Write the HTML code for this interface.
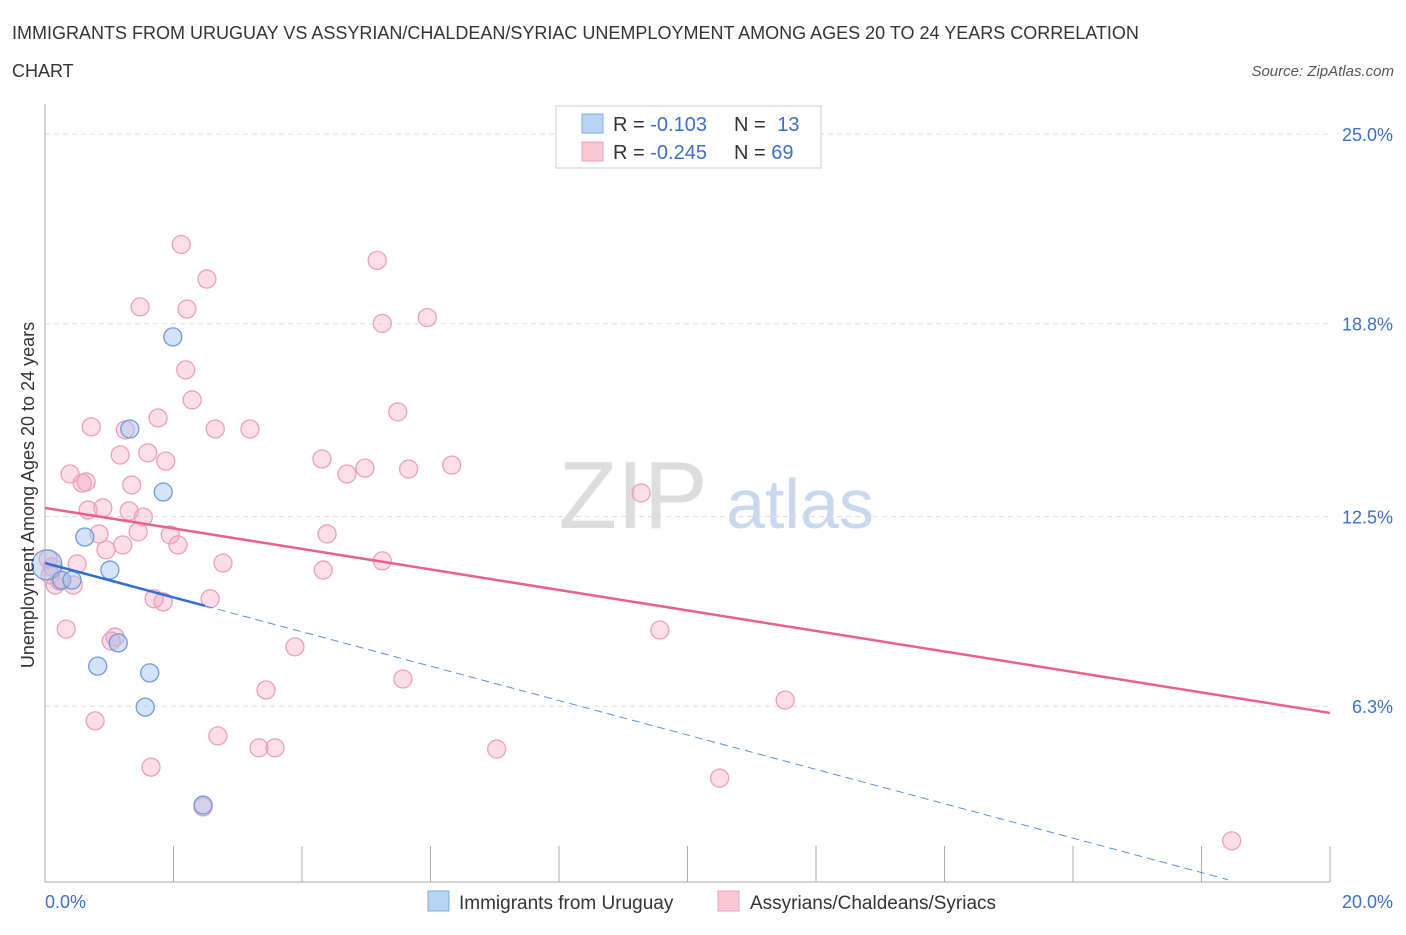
<!DOCTYPE html>
<html><head><meta charset="utf-8"><style>
body{margin:0;background:#fff;font-family:"Liberation Sans",sans-serif;}
svg text{font-family:"Liberation Sans",sans-serif;}
</style></head><body>
<svg id="chart" width="1406" height="930" xmlns="http://www.w3.org/2000/svg">
<text x="12" y="39" font-size="18" fill="#333">IMMIGRANTS FROM URUGUAY VS ASSYRIAN/CHALDEAN/SYRIAC UNEMPLOYMENT AMONG AGES 20 TO 24 YEARS CORRELATION</text>
<text x="12" y="77" font-size="18" fill="#333">CHART</text>
<text x="1394" y="76" font-size="15" fill="#555" font-style="italic" text-anchor="end">Source: ZipAtlas.com</text>
<text x="633" y="528" font-size="96" fill="#ddd" font-family="Liberation Serif" text-anchor="middle">ZIP</text>
<text x="800" y="528" font-size="70" fill="#c8d9ef" text-anchor="middle">atlas</text>
<g id="grid"></g>
<g id="axes"></g>
<g id="marks"></g>
<text transform="translate(34,495) rotate(-90)" font-size="18" fill="#333" text-anchor="middle">Unemployment Among Ages 20 to 24 years</text>
<g>
<rect x="556" y="106" width="265" height="62" fill="#fff" stroke="#ccc"/>
<rect x="582" y="114" width="21" height="19" fill="#b9d3f5" stroke="#7fa8e0"/>
<rect x="582" y="142" width="21" height="19" fill="#f9c6d5" stroke="#eba0b8"/>
<text x="613" y="131" font-size="20" fill="#333">R = <tspan fill="#3b6fc9">-0.103</tspan></text>
<text x="734" y="131" font-size="20" fill="#333">N = <tspan fill="#3b6fc9" dx="6">13</tspan></text>
<text x="613" y="159" font-size="20" fill="#333">R = <tspan fill="#3b6fc9">-0.245</tspan></text>
<text x="734" y="159" font-size="20" fill="#333">N = <tspan fill="#3b6fc9">69</tspan></text>
</g>
<g>
<rect x="428" y="891" width="21" height="20" fill="#b9d3f5" stroke="#7fa8e0"/>
<text x="459" y="909" font-size="19" fill="#333">Immigrants from Uruguay</text>
<rect x="718" y="891" width="21" height="20" fill="#f9c6d5" stroke="#eba0b8"/>
<text x="750" y="909" font-size="19" fill="#333">Assyrians/Chaldeans/Syriacs</text>
</g>
</svg>
<script>
const yTicks=[25.0,18.8,12.5,6.3];
const yTickLabels=["25.0%","18.8%","12.5%","6.3%"];
const xTickLabels=["0.0%","20.0%"];
const blueX=[0.03,0.26,0.42,0.62,1.01,1.32,1.84,1.99,0.82,1.14,1.63,1.56,2.46];
const blueY=[10.92,10.42,10.42,11.83,10.75,15.36,13.30,18.37,7.61,8.37,7.39,6.27,3.07];
const pinkX=[2.12,2.52,1.48,2.21,5.17,5.25,5.95,2.19,2.29,5.49,0.72,1.25,1.76,2.65,3.19,5.66,1.17,1.60,1.88,4.31,4.98,6.33,4.70,0.39,0.58,0.64,1.35,9.28,0.67,0.90,1.31,1.53,0.84,1.45,1.95,4.39,1.21,2.07,0.95,0.05,0.11,0.50,2.77,5.25,4.33,0.16,0.44,0.23,1.70,1.84,2.57,0.33,9.57,1.09,1.03,3.89,5.57,3.44,11.52,0.78,2.69,3.33,3.58,7.03,1.65,10.50,2.46,18.47,0.08];
const pinkY=[21.39,20.26,19.35,19.28,20.87,18.81,19.00,17.29,16.31,15.92,15.43,15.33,15.72,15.36,15.36,14.05,14.51,14.58,14.31,14.38,14.08,14.18,13.89,13.89,13.59,13.63,13.53,13.27,12.71,12.78,12.68,12.48,11.93,12.00,11.90,11.93,11.57,11.57,11.41,11.11,10.85,10.95,10.98,11.05,10.75,10.26,10.26,10.39,9.81,9.71,9.81,8.82,8.79,8.56,8.43,8.24,7.19,6.83,6.50,5.82,5.33,4.94,4.94,4.90,4.31,3.95,3.01,1.90,10.59];
const blueLine=[10.98,-0.562,2.49,18.41];
const pinkLine=[12.78,6.08];
const NS="http://www.w3.org/2000/svg";
const X=v=>45+v*64.25, Y=v=>134+(25-v)*30.6;
function mk(t,a,p){const e=document.createElementNS(NS,t);for(const k in a)e.setAttribute(k,a[k]);p.appendChild(e);return e;}
const grid=document.getElementById('grid'),axes=document.getElementById('axes'),marks=document.getElementById('marks');
yTicks.forEach((t,i)=>{
 const l=mk('line',{x1:45,x2:1330,y1:Y(t),y2:Y(t),stroke:'#ddd','stroke-dasharray':'5,4'},grid);
 
 
 const tx=mk('text',{x:1393,y:Y(t)+7,'font-size':18,fill:'#3b6fc9','text-anchor':'end'},axes);
 tx.textContent=yTickLabels[i];
 
 
});
mk('line',{x1:45,x2:45,y1:104,y2:882,stroke:'#aaa'},axes);
mk('line',{x1:45,x2:1330,y1:882,y2:882,stroke:'#aaa'},axes);
for(let i=0;i<=10;i++){mk('line',{x1:X(i*2),x2:X(i*2),y1:846,y2:882,stroke:'#aaa'},axes);}
xTickLabels.forEach((s,i)=>{
 const tx=mk('text',{x:i?1393:45,y:908,'font-size':18,fill:'#3b6fc9','text-anchor':i?'end':'start'},axes);
 tx.textContent=s;
 
 
});
pinkX.forEach((x,i)=>{
 const c=mk('circle',{cx:X(x),cy:Y(pinkY[i]),r:9,fill:'rgba(244,160,188,0.35)',stroke:'#eba0b8','stroke-width':1.3},marks);
 
 
});
blueX.forEach((x,i)=>{
 const c=mk('circle',{cx:X(x),cy:Y(blueY[i]),r:i===0?15:9,fill:'rgba(160,196,240,0.45)',stroke:'#6f9ad8','stroke-width':1.3},marks);
 
 
});
const pl=mk('line',{x1:X(0),y1:Y(pinkLine[0]),x2:X(20),y2:Y(pinkLine[1]),stroke:'#e8618c','stroke-width':2.5},marks);


const bY=x=>blueLine[0]+blueLine[1]*x;
const bl=mk('line',{x1:X(0),y1:Y(bY(0)),x2:X(blueLine[2]),y2:Y(bY(blueLine[2])),stroke:'#2f6fd0','stroke-width':2.5},marks);


const bd=mk('line',{x1:X(blueLine[2]),y1:Y(bY(blueLine[2])),x2:X(blueLine[3]),y2:Y(bY(blueLine[3])),stroke:'#5b8ede','stroke-width':1,'stroke-dasharray':'8,5'},marks);


</script>
</body></html>
